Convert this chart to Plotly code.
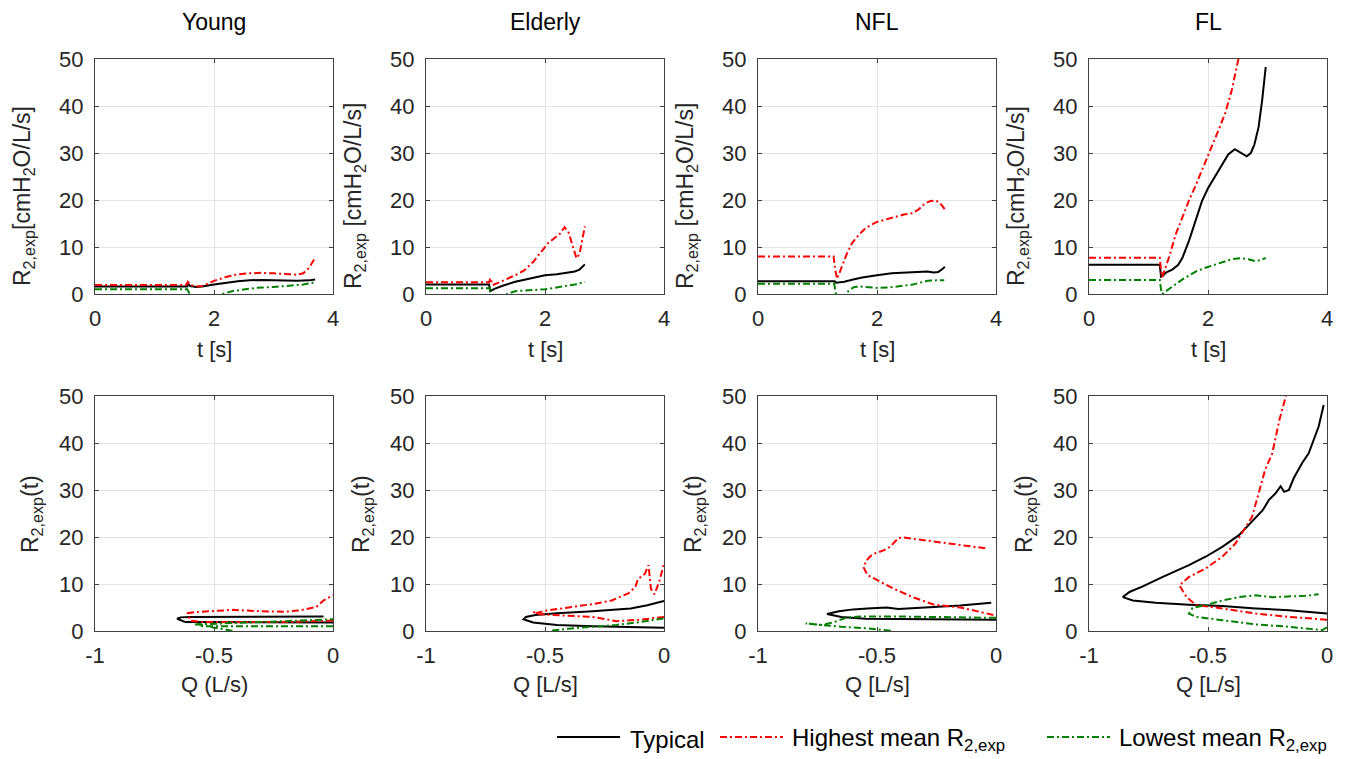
import plotly.graph_objects as go

W, H = 1351, 759

# ---------------- data ----------------
groups = ["Young", "Elderly", "NFL", "FL"]
series_names = ["Typical", "Highest mean R<sub>2,exp</sub>", "Lowest mean R<sub>2,exp</sub>"]
t_ticks = [0, 2, 4]
q_ticks = [-1, -0.5, 0]
q_tick_labels = ["-1", "-0.5", "0"]
r_ticks = [0, 10, 20, 30, 40, 50]
q_titles = ["Q (L/s)", "Q [L/s]", "Q [L/s]", "Q [L/s]"]
top_ytitles = ["R<sub>2,exp</sub>[cmH<sub>2</sub>O/L/s]", "R<sub>2,exp</sub> [cmH<sub>2</sub>O/L/s]",
               "R<sub>2,exp</sub> [cmH<sub>2</sub>O/L/s]", "R<sub>2,exp</sub>[cmH<sub>2</sub>O/L/s]"]

# Young, R vs time
young_typ_t = [0, 1.55, 1.57, 1.6, 1.7, 1.8, 2.0, 2.2, 2.4, 2.6, 2.8, 3.0, 3.2, 3.4, 3.6, 3.7]
young_typ_r = [1.6, 1.6, 2.1, 1.7, 1.5, 1.6, 2.0, 2.4, 2.7, 2.9, 3.0, 2.9, 2.8, 2.8, 2.9, 3.1]
young_hi_t = [0, 1.53, 1.56, 1.6, 1.7, 1.8, 1.9, 2.0, 2.2, 2.4, 2.6, 2.8, 3.0, 3.2, 3.4, 3.5, 3.6, 3.7]
young_hi_r = [1.9, 1.9, 2.6, 1.9, 1.6, 1.7, 2.2, 2.8, 3.6, 4.2, 4.4, 4.5, 4.4, 4.2, 4.1, 4.4, 5.6, 7.7]
young_lo_t = [0, 1.55, 1.58, 1.62, 2.1, 2.15, 2.3, 2.5, 2.7, 3.0, 3.3, 3.5, 3.7]
young_lo_r = [1.0, 1.0, 0.3, -2, -2, 0.0, 0.6, 1.0, 1.3, 1.5, 1.8, 2.0, 2.5]

# Young, R vs flow
young_typ_q = [0, -0.2, -0.4, -0.55, -0.62, -0.655, -0.64, -0.6, -0.5, -0.4, -0.3, -0.2, -0.1, -0.04]
young_typ_rq = [1.8, 1.8, 1.8, 1.8, 1.9, 2.6, 2.9, 3.0, 3.0, 3.0, 3.0, 3.0, 3.1, 3.1]
young_hi_q = [0, -0.2, -0.4, -0.55, -0.6, -0.61, -0.58, -0.5, -0.42, -0.3, -0.2, -0.14, -0.07, -0.04, 0]
young_hi_rq = [2.2, 1.9, 1.9, 1.9, 2.2, 3.8, 4.0, 4.3, 4.5, 4.2, 4.1, 4.4, 5.1, 6.5, 7.6]
young_lo_q = [0, -0.2, -0.4, -0.55, -0.57, -0.52, -0.46, -0.42, None, -0.58, -0.5, -0.4, -0.3, -0.2, -0.1, 0]
young_lo_rq = [1.0, 1.0, 1.0, 1.0, 1.5, 0.9, 0.4, 0.0, None, 1.4, 1.5, 1.7, 1.9, 2.1, 2.3, 2.5]

# Elderly, R vs time
eld_typ_t = [0, 1.06, 1.08, 1.15, 1.3, 1.5, 1.75, 2.0, 2.2, 2.4, 2.5, 2.58, 2.63, 2.67]
eld_typ_r = [2.0, 2.0, 0.6, 1.1, 1.8, 2.6, 3.3, 4.0, 4.2, 4.6, 4.8, 5.2, 5.8, 6.3]
eld_hi_t = [0, 1.06, 1.08, 1.12, 1.2, 1.35, 1.5, 1.65, 1.8, 1.95, 2.05, 2.15, 2.25, 2.33, 2.4, 2.47, 2.53, 2.58, 2.63, 2.67]
eld_hi_r = [2.5, 2.5, 3.4, 1.9, 2.3, 3.1, 4.0, 5.0, 6.8, 9.2, 10.8, 11.8, 12.8, 14.2, 13.0, 10.0, 7.6, 8.5, 11.5, 14.4]
eld_lo_t = [0, 1.07, 1.1, 1.12, 1.33, 1.36, 1.5, 1.75, 2.0, 2.3, 2.5, 2.67]
eld_lo_r = [1.2, 1.2, 0.0, -2, -2, 0.0, 0.6, 0.85, 1.0, 1.6, 2.0, 2.6]

# Elderly, R vs flow
eld_typ_q = [0, -0.15, -0.3, -0.45, -0.55, -0.59, -0.58, -0.54, -0.45, -0.3, -0.2, -0.14, -0.07, 0]
eld_typ_rq = [0.7, 0.8, 1.0, 1.3, 1.8, 2.5, 3.0, 3.4, 3.8, 4.2, 4.5, 4.8, 5.5, 6.4]
eld_hi_q = [0, -0.05, -0.1, -0.2, -0.3, -0.43, -0.53, -0.55, -0.54, -0.5, -0.43, -0.35, -0.29, -0.22,
            -0.15, -0.12, -0.11, -0.08, -0.065, -0.055, -0.04, -0.02, 0]
eld_hi_rq = [3.0, 2.7, 2.4, 2.1, 3.0, 3.3, 3.6, 4.1, 3.8, 4.3, 4.8, 5.3, 5.8, 6.5,
             8.0, 9.4, 11.0, 12.2, 14.0, 9.0, 7.8, 10.5, 14.4]
eld_lo_q = [-0.47, -0.4, -0.3, -0.2, -0.1, 0]
eld_lo_rq = [0.1, 0.5, 0.9, 1.3, 1.9, 2.7]

# NFL, R vs time
nfl_typ_t = [0, 1.29, 1.31, 1.45, 1.6, 1.75, 2.0, 2.25, 2.5, 2.75, 2.85, 2.95, 3.03, 3.1, 3.14]
nfl_typ_r = [2.7, 2.7, 2.4, 2.6, 3.1, 3.5, 4.0, 4.4, 4.6, 4.8, 4.8, 4.6, 4.7, 5.3, 5.8]
nfl_hi_t = [0, 1.27, 1.30, 1.33, 1.4, 1.49, 1.58, 1.66, 1.75, 1.83, 1.99, 2.15, 2.3, 2.45, 2.6, 2.7,
            2.8, 2.9, 2.98, 3.05, 3.1, 3.14]
nfl_hi_r = [8.0, 8.0, 5.0, 3.2, 5.5, 8.5, 10.8, 12.1, 13.3, 14.2, 15.3, 15.9, 16.5, 16.9, 17.2, 18.0,
            19.2, 19.8, 19.9, 19.5, 18.7, 18.0]
nfl_lo_t = [0, 1.28, 1.31, 1.33, 1.44, 1.47, 1.55, 1.62, 1.72, 1.85, 2.0, 2.2, 2.4, 2.6, 2.75, 2.85, 3.0, 3.13]
nfl_lo_r = [2.2, 2.2, 0.0, -2, -2, 0.0, 1.0, 1.5, 1.6, 1.5, 1.3, 1.4, 1.7, 2.0, 2.5, 2.8, 2.9, 2.9]

# NFL, R vs flow
nfl_typ_q = [0, -0.2, -0.4, -0.55, -0.65, -0.71, -0.66, -0.6, -0.54, -0.46, -0.41, -0.3, -0.15, -0.02]
nfl_typ_rq = [2.4, 2.5, 2.6, 2.6, 3.0, 3.6, 4.2, 4.6, 4.8, 5.0, 4.7, 5.0, 5.4, 6.0]
nfl_hi_q = [-0.045, -0.15, -0.29, -0.39, -0.41, -0.445, -0.47, -0.52, -0.545, -0.556, -0.54, -0.5,
            -0.43, -0.35, -0.26, -0.15, -0.067, 0]
nfl_hi_rq = [17.6, 18.3, 19.2, 19.9, 19.8, 17.9, 17.2, 16.3, 15.0, 13.5, 11.9, 10.8,
             9.0, 7.2, 5.6, 5.0, 4.1, 3.3]
nfl_lo_q = [0, -0.2, -0.43, -0.57, -0.63, -0.68, -0.71, -0.73, -0.8, -0.72, -0.65, -0.55, -0.43]
nfl_lo_rq = [2.8, 3.0, 3.1, 3.1, 2.8, 1.9, 1.6, 1.3, 1.6, 1.2, 0.9, 0.6, 0.0]

# FL, R vs time
fl_typ_t = [0, 1.19, 1.21, 1.25, 1.3, 1.4, 1.5, 1.57, 1.68, 1.79, 1.9, 2.0, 2.1, 2.23, 2.34, 2.45,
            2.56, 2.65, 2.72, 2.78, 2.85, 2.91, 2.97]
fl_typ_r = [6.2, 6.2, 3.7, 4.0, 4.6, 5.2, 6.2, 7.7, 11.3, 15.5, 19.8, 22.5, 24.7, 27.6, 29.7, 30.8,
            29.9, 29.3, 30.0, 31.8, 35.5, 41.2, 48.3]
fl_hi_t = [0, 1.19, 1.21, 1.23, 1.35, 1.46, 1.57, 1.68, 1.79, 1.9, 2.01, 2.12, 2.2, 2.29, 2.4, 2.52]
fl_hi_r = [7.7, 7.7, 5.0, 3.6, 8.0, 12.8, 16.3, 19.9, 23.0, 26.3, 29.6, 32.8, 35.6, 38.5, 43.4, 50.5]
fl_lo_t = [0, 1.19, 1.21, 1.23, 1.27, 1.35, 1.46, 1.57, 1.68, 1.8, 1.96, 2.1, 2.23, 2.35, 2.45, 2.56,
           2.68, 2.79, 2.88, 2.97]
fl_lo_r = [3.0, 3.0, 1.0, 0.0, 0.4, 1.2, 2.1, 3.1, 4.0, 4.8, 5.6, 6.2, 6.7, 7.2, 7.5, 7.6,
           7.4, 7.0, 7.2, 7.7]

# FL, R vs flow
fl_typ_q = [0, -0.16, -0.30, -0.44, -0.58, -0.72, -0.816, -0.858, -0.83, -0.774, -0.69, -0.58, -0.51,
            -0.44, -0.37, -0.315, -0.27, -0.244, -0.216, -0.195, -0.18, -0.16, -0.14, -0.105, -0.077,
            -0.035, -0.014]
fl_typ_rq = [3.7, 4.4, 4.8, 5.3, 5.6, 6.0, 6.5, 7.2, 8.3, 9.5, 11.5, 14.0, 15.8,
             17.9, 20.4, 23.2, 25.7, 27.9, 29.3, 30.8, 29.6, 30.0, 32.5, 35.7, 37.8,
             43.5, 48.1]
fl_hi_q = [0, -0.16, -0.30, -0.44, -0.55, -0.59, -0.62, -0.58, -0.51, -0.44, -0.385, -0.34, -0.315,
           -0.287, -0.26, -0.23, -0.2, -0.17]
fl_hi_rq = [2.4, 3.0, 3.7, 4.8, 5.5, 7.2, 9.7, 11.5, 13.3, 15.8, 18.6, 22.2, 24.3,
            29.3, 34.3, 37.8, 44.9, 50.5]
fl_lo_q = [0, -0.02, -0.16, -0.30, -0.44, -0.55, -0.58, -0.565, -0.51, -0.44, -0.37, -0.30, -0.23,
           -0.16, -0.09, -0.035]
fl_lo_rq = [0.8, 0.2, 0.9, 1.4, 2.3, 3.0, 3.7, 4.9, 5.5, 6.5, 7.2, 7.6, 7.2,
            7.3, 7.5, 7.8]

time_data = [
    [(young_typ_t, young_typ_r), (young_hi_t, young_hi_r), (young_lo_t, young_lo_r)],
    [(eld_typ_t, eld_typ_r), (eld_hi_t, eld_hi_r), (eld_lo_t, eld_lo_r)],
    [(nfl_typ_t, nfl_typ_r), (nfl_hi_t, nfl_hi_r), (nfl_lo_t, nfl_lo_r)],
    [(fl_typ_t, fl_typ_r), (fl_hi_t, fl_hi_r), (fl_lo_t, fl_lo_r)],
]
flow_data = [
    [(young_typ_q, young_typ_rq), (young_hi_q, young_hi_rq), (young_lo_q, young_lo_rq)],
    [(eld_typ_q, eld_typ_rq), (eld_hi_q, eld_hi_rq), (eld_lo_q, eld_lo_rq)],
    [(nfl_typ_q, nfl_typ_rq), (nfl_hi_q, nfl_hi_rq), (nfl_lo_q, nfl_lo_rq)],
    [(fl_typ_q, fl_typ_rq), (fl_hi_q, fl_hi_rq), (fl_lo_q, fl_lo_rq)],
]

# ---------------- styling ----------------
FONT = "Liberation Sans, Arial, Helvetica, sans-serif"
TXT = "#262626"
AX = "#404040"
GRID = "#e4e4e4"
line_styles = [
    dict(color="#000000", width=2, dash="solid"),
    dict(color="#ff0000", width=2, dash="7px,3px,2px,3px"),
    dict(color="#008000", width=2, dash="7px,3px,2px,3px"),
]

# plot areas in pixels
col_left = [95, 426, 758, 1089]
col_w = 238
row_top = [59, 396]
row_h = 235


def px(x):
    return x / W


def py(y):
    return 1 - y / H


fig = go.Figure()
layout = dict(
    template=None,
    width=W, height=H, margin=dict(l=0, r=0, t=0, b=0, pad=0, autoexpand=False),
    paper_bgcolor="white", plot_bgcolor="white", showlegend=False,
    font=dict(family=FONT, color=TXT, size=22),
)
annotations = []
shapes = []

axis_common = dict(
    showline=True, linecolor=AX, linewidth=1, mirror="ticks",
    ticks="inside", ticklen=4, tickwidth=1, tickcolor=AX,
    showgrid=True, gridcolor=GRID, gridwidth=1, zeroline=False, automargin=False,
    tickfont=dict(family=FONT, size=22, color=TXT),
)

for row in range(2):
    for col in range(4):
        k = row * 4 + col + 1
        xa = "xaxis" if k == 1 else f"xaxis{k}"
        ya = "yaxis" if k == 1 else f"yaxis{k}"
        xref = "x" if k == 1 else f"x{k}"
        yref = "y" if k == 1 else f"y{k}"
        x0 = col_left[col]
        y0 = row_top[row]
        xdom = [px(x0), px(x0 + col_w)]
        ydom = [py(y0 + row_h), py(y0)]
        if row == 0:
            xr = [0, 4]
            xt = dict(tickvals=t_ticks, ticktext=[str(v) for v in t_ticks])
            data = time_data[col]
        else:
            xr = [-1, 0]
            xt = dict(tickvals=q_ticks, ticktext=q_tick_labels)
            data = flow_data[col]
        layout[xa] = dict(axis_common, domain=xdom, range=xr, anchor=yref,
                          ticklabelstandoff=5, **xt)
        layout[ya] = dict(axis_common, domain=ydom, range=[0, 50], anchor=xref,
                          tickvals=r_ticks, ticklabelstandoff=6)
        for s, (xs, ys) in enumerate(data):
            fig.add_trace(go.Scatter(
                x=xs, y=ys, mode="lines", line=line_styles[s],
                xaxis=xref, yaxis=yref, name=series_names[s],
                showlegend=False, hoverinfo="skip",
            ))
        cx = x0 + col_w / 2
        if row == 0:
            annotations.append(dict(text="t [s]", x=px(cx), y=py(349), xref="paper", yref="paper",
                                    showarrow=False, xanchor="center", yanchor="middle",
                                    font=dict(size=22, family=FONT, color=TXT)))
            annotations.append(dict(text=groups[col], x=px(cx), y=py(22), xref="paper", yref="paper",
                                    showarrow=False, xanchor="center", yanchor="middle",
                                    font=dict(size=23, family=FONT, color="#000000")))
            annotations.append(dict(text=top_ytitles[col], x=px(x0 - 72), y=py(196), xref="paper",
                                    yref="paper", showarrow=False, textangle=-90,
                                    xanchor="center", yanchor="middle",
                                    font=dict(size=23, family=FONT, color=TXT)))
        else:
            annotations.append(dict(text=q_titles[col], x=px(cx), y=py(684), xref="paper", yref="paper",
                                    showarrow=False, xanchor="center", yanchor="middle",
                                    font=dict(size=22, family=FONT, color=TXT)))
            annotations.append(dict(text="R<sub>2,exp</sub>(t)", x=px(x0 - 64), y=py(514), xref="paper",
                                    yref="paper", showarrow=False, textangle=-90,
                                    xanchor="center", yanchor="middle",
                                    font=dict(size=23, family=FONT, color=TXT)))

# manual legend (samples + labels)
leg_y = 737
leg_items = [(557, 620, 628), (720, 783, 790), (1047, 1110, 1117)]
for s, (lx0, lx1, tx) in enumerate(leg_items):
    st = line_styles[s]
    shapes.append(dict(type="line", xref="paper", yref="paper", x0=px(lx0), x1=px(lx1),
                       y0=py(leg_y), y1=py(leg_y),
                       line=dict(color=st["color"], width=2, dash=st["dash"])))
    annotations.append(dict(text=series_names[s], x=px(tx), y=py(leg_y + 2), xref="paper", yref="paper",
                            showarrow=False, xanchor="left", yanchor="middle",
                            font=dict(size=24, family=FONT, color="#000000")))

layout["annotations"] = annotations
layout["shapes"] = shapes
fig.update_layout(**layout)
fig.write_html("out.html")
